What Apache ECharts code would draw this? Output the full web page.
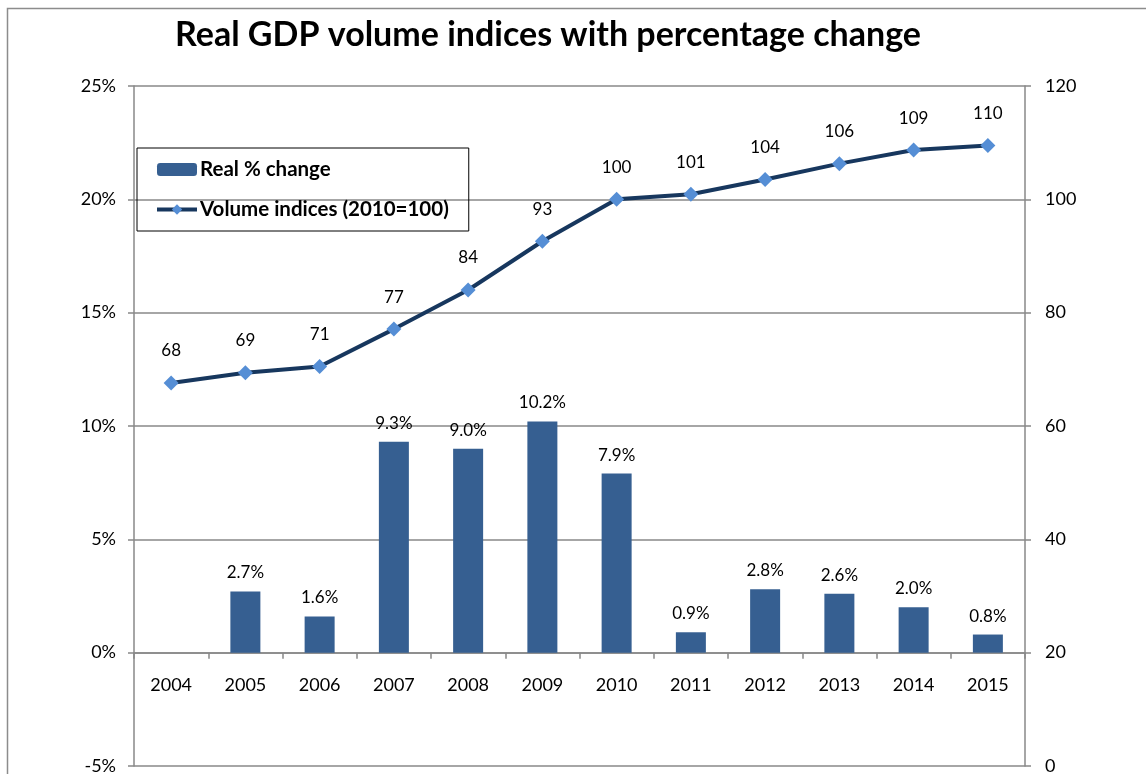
<!DOCTYPE html>
<html>
<head>
<meta charset="utf-8">
<script src="https://cdn.jsdelivr.net/npm/echarts@6/dist/echarts.min.js"></script>
<style>
html,body{margin:0;padding:0;background:#fff;}
#chart{width:1146px;height:774px;}
</style>
</head>
<body>
<div id="chart"></div>
<script>
// 数据
var years = ['2004','2005','2006','2007','2008','2009','2010','2011','2012','2013','2014','2015'];
var realChange = [null, 2.7, 1.6, 9.3, 9.0, 10.2, 7.9, 0.9, 2.8, 2.6, 2.0, 0.8];
var volumeIdx = [67.6, 69.4, 70.5, 77.1, 84.0, 92.6, 100, 100.9, 103.5, 106.3, 108.7, 109.5];

var font = 'Lato';
var grey = '#888888';
var gridTop = 86, gridBottom = 8;
var plotH = 774 - gridTop - gridBottom;

var chart = echarts.init(document.getElementById('chart'));
var option = {
	backgroundColor: '#fff',
	animation: false,
	textStyle: {fontFamily: font},
	title: {
		text: 'Real GDP volume indices with percentage change',
		left: 543, top: 13, textAlign: 'center',
		textStyle: {fontFamily: font, fontSize: 34, fontWeight: 'bold', color: '#000'}
	},
	// 外框
	graphic: [{
		type: 'rect', left: 5, top: 6, z: -1,
		shape: {width: 1200, height: 800},
		style: {fill: null, stroke: '#8c8c8c', lineWidth: 1.5}
	}],
	legend: {
		orient: 'vertical',
		left: 137, top: 148,
		padding: [11, 20, 11, 18],
		itemGap: 19,
		itemWidth: 40, itemHeight: 13,
		borderColor: '#000', borderWidth: 1,
		lineStyle: {width: 4},
		textStyle: {fontFamily: font, fontSize: 20.5, fontWeight: 'bold', color: '#000', padding: [0, 0, 0, -2]},
		data: ['Real % change', 'Volume indices (2010=100)']
	},
	grid: {left: 134, right: 121, top: gridTop, bottom: gridBottom, outerBoundsMode: 'none'},
	xAxis: {
		type: 'category',
		data: years,
		position: 'bottom',
		// 0% 处的轴线：-5%..25% 共 6 格，往上移 1 格
		offset: -plotH / 6,
		axisLine: {onZero: false, lineStyle: {color: grey, width: 1.5}},
		axisTick: {show: true, length: 6, lineStyle: {color: grey, width: 1.5}},
		axisLabel: {margin: 24, fontSize: 18, color: '#000', fontFamily: font},
		splitLine: {show: false}
	},
	yAxis: [{
		type: 'value', min: -5, max: 25, interval: 5,
		axisLine: {show: true, lineStyle: {color: grey, width: 1.5}},
		axisTick: {show: true, length: 6, lineStyle: {color: grey, width: 1.5}},
		axisLabel: {formatter: '{value}%', margin: 18, fontSize: 18, color: '#000', fontFamily: font},
		splitLine: {show: true, lineStyle: {color: grey, width: 1.5}}
	}, {
		type: 'value', min: 0, max: 120, interval: 20,
		axisLine: {show: true, lineStyle: {color: grey, width: 1.5}},
		axisTick: {show: true, length: 6, lineStyle: {color: grey, width: 1.5}},
		axisLabel: {margin: 20, fontSize: 18, color: '#000', fontFamily: font},
		splitLine: {show: false}
	}],
	series: [{
		name: 'Real % change',
		type: 'bar',
		data: realChange,
		barWidth: 30,
		itemStyle: {color: '#365F91'},
		label: {
			show: true, position: 'top', distance: 10,
			fontSize: 17, color: '#000', fontFamily: font,
			formatter: function(p){ return p.value == null ? '' : p.value.toFixed(1) + '%'; }
		}
	}, {
		name: 'Volume indices (2010=100)',
		type: 'line',
		yAxisIndex: 1,
		data: volumeIdx,
		symbol: 'diamond', symbolSize: 15,
		lineStyle: {color: '#17375E', width: 4},
		itemStyle: {color: '#558ED5'},
		label: {
			show: true, position: 'top', distance: 16,
			fontSize: 17, color: '#000', fontFamily: font,
			formatter: function(p){ return Math.round(p.value); }
		}
	}]
};
chart.setOption(option);
</script>
</body>
</html>
